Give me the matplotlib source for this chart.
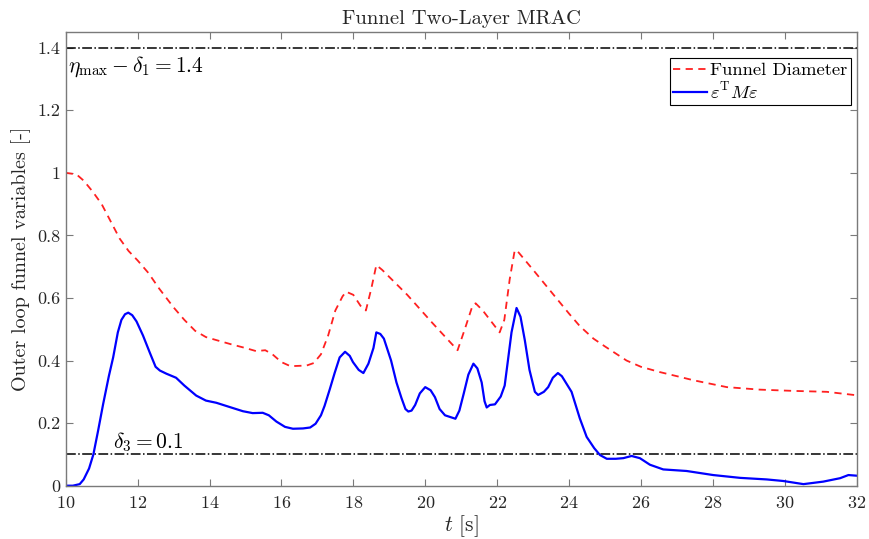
import matplotlib
matplotlib.use("Agg")
import matplotlib.pyplot as plt

plt.rcParams["font.family"] = "serif"
plt.rcParams["font.serif"] = ["cmr10", "DejaVu Serif"]
plt.rcParams["mathtext.fontset"] = "cm"
plt.rcParams["axes.formatter.use_mathtext"] = True

# ---- data ----
t_funnel = [10.0, 10.3, 10.5, 10.75, 11.0, 11.25, 11.5, 11.75, 12.0, 12.3,
            12.6, 13.0, 13.3, 13.6, 13.9, 14.2, 14.6, 15.0, 15.3, 15.55,
            15.75, 16.0, 16.25, 16.7, 16.9, 17.1, 17.3, 17.5, 17.7, 17.8,
            17.9, 18.0, 18.2, 18.35, 18.5, 18.64, 18.8, 19.5, 20.2, 20.9,
            21.1, 21.3, 21.4, 21.6, 22.07, 22.2, 22.35, 22.49, 22.6, 23.0,
            23.5, 24.0, 24.3, 24.68, 25.0, 25.6, 26.0, 26.53, 27.0, 27.46,
            28.39, 29.31, 30.24, 31.17, 32.0]
funnel_diam = [1.0, 0.995, 0.975, 0.94, 0.9, 0.845, 0.79, 0.75, 0.72, 0.68,
               0.63, 0.57, 0.53, 0.495, 0.475, 0.465, 0.452, 0.44, 0.43, 0.433,
               0.42, 0.395, 0.382, 0.384, 0.392, 0.42, 0.48, 0.56, 0.605, 0.62,
               0.615, 0.61, 0.575, 0.56, 0.63, 0.705, 0.69, 0.61, 0.52, 0.433,
               0.5, 0.57, 0.583, 0.56, 0.49, 0.53, 0.66, 0.753, 0.745, 0.69,
               0.62, 0.55, 0.51, 0.47, 0.445, 0.40, 0.38, 0.363, 0.35, 0.337,
               0.315, 0.307, 0.303, 0.30, 0.289]

t_err = [10.0, 10.2, 10.39, 10.5, 10.65, 10.77, 10.9, 11.04, 11.2, 11.32,
         11.45, 11.55, 11.65, 11.74, 11.85, 11.97, 12.15, 12.34, 12.5, 12.62,
         12.8, 13.07, 13.3, 13.63, 13.9, 14.19, 14.6, 14.93, 15.2, 15.48,
         15.65, 15.86, 16.1, 16.32, 16.6, 16.8, 16.95, 17.1, 17.2, 17.35,
         17.48, 17.62, 17.77, 17.9, 17.99, 18.15, 18.28, 18.42, 18.56, 18.64,
         18.75, 18.85, 19.05, 19.2, 19.34, 19.45, 19.53, 19.62, 19.72, 19.85,
         20.0, 20.15, 20.27, 20.4, 20.55, 20.84, 20.95, 21.07, 21.2, 21.34,
         21.45, 21.57, 21.65, 21.71, 21.8, 21.94, 22.1, 22.21, 22.3, 22.4,
         22.54, 22.65, 22.77, 22.9, 23.05, 23.14, 23.3, 23.42, 23.55, 23.69,
         23.8, 24.07, 24.3, 24.49, 24.7, 24.86, 25.05, 25.3, 25.51, 25.74,
         25.97, 26.25, 26.62, 27.27, 28.01, 28.76, 29.5, 29.96, 30.52, 31.07,
         31.54, 31.77, 32.0]
err_quad = [0.0, 0.0, 0.005, 0.02, 0.055, 0.1, 0.175, 0.26, 0.35, 0.41,
            0.49, 0.53, 0.548, 0.553, 0.545, 0.525, 0.48, 0.425, 0.38, 0.368,
            0.358, 0.345, 0.32, 0.288, 0.272, 0.265, 0.25, 0.238, 0.232, 0.233,
            0.225, 0.205, 0.188, 0.182, 0.183, 0.186, 0.198, 0.225, 0.255, 0.31,
            0.36, 0.41, 0.428, 0.415, 0.395, 0.37, 0.36, 0.39, 0.44, 0.49,
            0.485, 0.47, 0.40, 0.33, 0.28, 0.245, 0.237, 0.24, 0.258, 0.295,
            0.315, 0.305, 0.283, 0.245, 0.225, 0.214, 0.24, 0.294, 0.355, 0.39,
            0.375, 0.33, 0.27, 0.25, 0.258, 0.26, 0.285, 0.32, 0.40, 0.49,
            0.568, 0.54, 0.465, 0.37, 0.30, 0.29, 0.30, 0.315, 0.345, 0.36,
            0.35, 0.30, 0.215, 0.156, 0.12, 0.098, 0.086, 0.086, 0.088, 0.095,
            0.088, 0.067, 0.052, 0.047, 0.034, 0.025, 0.02, 0.015, 0.005, 0.013,
            0.024, 0.034, 0.032]

eta_bound = 1.4
delta3 = 0.1

# ---- plot ----
fig = plt.figure(figsize=(8.69, 5.39), dpi=100)
ax = fig.add_axes([0.0756, 0.0989, 0.9102, 0.8417])

ax.axhline(eta_bound, color="black", linestyle="-.", linewidth=1.1)
ax.axhline(delta3, color="black", linestyle="-.", linewidth=1.1)
ax.plot(t_funnel, funnel_diam, color="#ff2020", linestyle=(0, (4.0, 3.0)),
        linewidth=1.3, label="Funnel Diameter")
ax.plot(t_err, err_quad, color="#0000ff", linewidth=1.6,
        label=r"$\varepsilon^{\mathrm{T}} M \varepsilon$")

ax.text(10.06, 1.34, r"$\eta_{\max} - \delta_1 = 1.4$", fontsize=15.5,
        va="center", ha="left")
ax.text(11.32, 0.14, r"$\delta_3 = 0.1$", fontsize=15.5, va="center", ha="left")

ax.set_xlim(10, 32)
ax.set_ylim(0, 1.45)
ax.set_xticks(range(10, 33, 2))
ax.set_yticks([0, 0.2, 0.4, 0.6, 0.8, 1, 1.2, 1.4])
ax.set_yticklabels(["0", "0.2", "0.4", "0.6", "0.8", "1", "1.2", "1.4"])

for s in ax.spines.values():
    s.set_color("#7a7a7a")
    s.set_linewidth(1.0)
ax.tick_params(direction="in", top=True, right=True, length=5,
               color="#7a7a7a", labelcolor="#262626", labelsize=13)
ax.tick_params(axis="x", pad=7)
ax.tick_params(axis="y", pad=4)

ax.set_title("Funnel Two-Layer MRAC", fontsize=14.8, color="#262626", pad=6)
ax.set_xlabel(r"$t$ [s]", fontsize=15.5, color="#262626", labelpad=1)
ax.set_ylabel("Outer loop funnel variables [-]", fontsize=14.5,
              color="#262626", labelpad=4)

leg = ax.legend(loc="upper right", bbox_to_anchor=(0.9924, 0.942),
                borderaxespad=0, fancybox=False, edgecolor="black",
                framealpha=1, fontsize=13.4, handlelength=1.8,
                handletextpad=0.15, borderpad=0.2, labelspacing=0.15)
leg.get_frame().set_linewidth(0.8)

fig.savefig("out.png", dpi=100, facecolor="white")
